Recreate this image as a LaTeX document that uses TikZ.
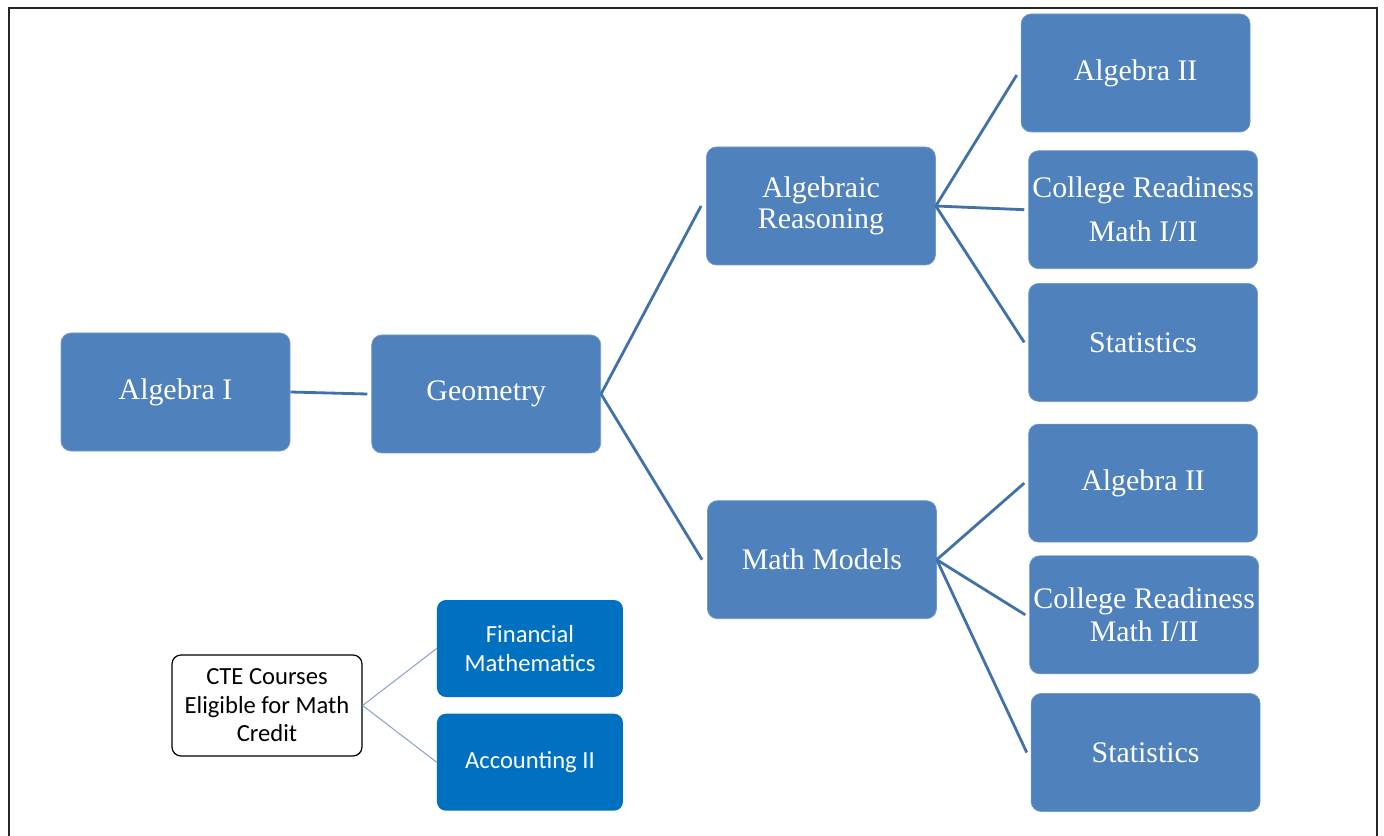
\documentclass[tikz,border=0pt]{standalone}
\usepackage{fontspec}
\setmainfont{Liberation Serif}
\newfontfamily\ctefont{Carlito}
\usetikzlibrary{positioning}

\definecolor{boxBlue}{RGB}{79,129,189}
\definecolor{linkBlue}{RGB}{66,113,170}
\definecolor{cteBlue}{RGB}{0,112,192}
\definecolor{cteLink}{RGB}{140,165,196}

\begin{document}
\begin{tikzpicture}[
    % Box Styles
    course/.style={
        rectangle, rounded corners=0.2cm, fill=boxBlue, draw=boxBlue!80!white, thin,
        minimum width=4.58cm, minimum height=2.36cm, inner sep=0pt, align=center,
        text=white, font=\fontsize{17pt}{18pt}\selectfont
    },
    ctebox/.style={
        rectangle, rounded corners=0.18cm, draw=black, line width=0.7pt, fill=white,
        minimum width=3.8cm, minimum height=2.02cm, inner sep=0pt, align=center,
        font=\ctefont\fontsize{14pt}{16.2pt}\selectfont
    },
    ctecourse/.style={
        rectangle, rounded corners=0.18cm, fill=cteBlue,
        minimum width=3.72cm, minimum height=1.94cm, inner sep=0pt, align=center,
        text=white, font=\ctefont\fontsize{14pt}{16.2pt}\selectfont
    },
    % Line Styles
    link/.style={draw=linkBlue, line width=1.6pt},
    thinLink/.style={draw=cteLink, line width=0.6pt}
]
    \useasboundingbox (0,0) rectangle (27.68,-16.72);

    % --- FRAME ---
    \draw[black!85, line width=0.9pt] (0.18,-16.72) |- (27.54,-0.16) -- (27.54,-16.72);

    % --- MAIN PATH ---
    \node[course] (alg1) at (3.51,-7.84) {Algebra I};
    \node[course, right=1.62cm of alg1, yshift=-0.04cm] (geo) {Geometry};
    \node[course, right=2.1cm of geo, yshift=3.76cm] (algr) {Algebraic\\Reasoning};
    \node[course, below=4.7cm of algr, xshift=0.02cm] (mmod) {Math Models};

    % Upper branch
    \node[course, right=1.72cm of algr, yshift=2.66cm, xshift=-0.02cm] (alg2a) {Algebra II};
    \node[course, below=0.36cm of alg2a, xshift=0.15cm] (crma) {College Readiness\\[7pt]Math I/II};
    \node[course, below=0.28cm of crma] (stata) {Statistics};

    % Lower branch
    \node[course, below=0.44cm of stata] (alg2b) {Algebra II};
    \node[course, below=0.26cm of alg2b, xshift=0.02cm] (crmb) {College Readiness\\[1pt]Math I/II};
    \node[course, below=0.38cm of crmb, xshift=0.03cm] (statb) {Statistics};

    % --- CTE COURSES ---
    \node[ctebox] (cte) at (5.34,-14.11) {CTE Courses\\Eligible for Math\\Credit};
    \node[ctecourse, right=1.48cm of cte, yshift=1.14cm] (fin) {Financial\\Mathematics};
    \node[ctecourse, below=0.32cm of fin] (acc) {Accounting II};

    % --- CONNECTORS ---
    \draw[link] (alg1.east) -- ([xshift=-0.08cm]geo.west);
    \draw[link] (geo.east) -- ([xshift=-0.1cm]algr.west);
    \draw[link] (geo.east) -- ([xshift=-0.1cm]mmod.west);

    \draw[link] (algr.east) -- ([xshift=-0.08cm,yshift=-0.04cm]alg2a.west);
    \foreach \n in {crma, stata} {
        \draw[link] (algr.east) -- ([xshift=-0.08cm]\n.west);
    }
    \foreach \n in {alg2b, crmb, statb} {
        \draw[link] (mmod.east) -- ([xshift=-0.08cm]\n.west);
    }

    \draw[thinLink] (cte.east) -- (fin.west);
    \draw[thinLink] (cte.east) -- (acc.west);

\end{tikzpicture}
\end{document}
